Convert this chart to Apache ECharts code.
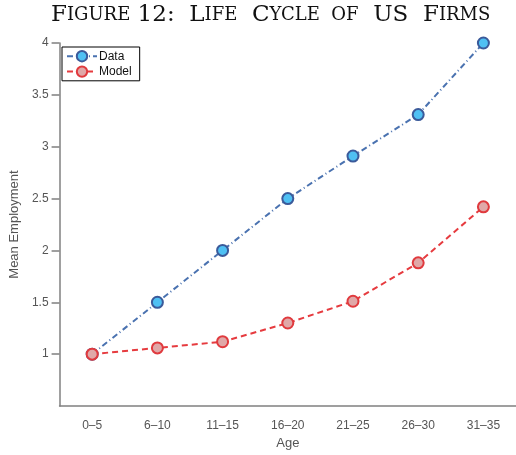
<!DOCTYPE html>
<html>
<head>
<meta charset="utf-8">
<script src="https://cdn.jsdelivr.net/npm/echarts@6/dist/echarts.min.js"></script>
<style>
  html, body { margin: 0; padding: 0; background: #fff; }
  #chart { width: 516px; height: 455px; }
</style>
</head>
<body>
<div id="chart"></div>
<script>
// age groups on the x axis
const ageGroups = ['0–5', '6–10', '11–15', '16–20', '21–25', '26–30', '31–35']
// mean employment
const dataValues = [1.0, 1.5, 2.0, 2.5, 2.91, 3.31, 4.0]
const modelValues = [1.0, 1.06, 1.12, 1.3, 1.51, 1.88, 2.42]
// y tick labels shown
const yTicks = [1, 1.5, 2, 2.5, 3, 3.5, 4]

const chart = echarts.init(document.getElementById('chart'))

const axisColor = '#808080'
const labelColor = '#555'

const option = {
  animation: false,
  title: {
    text: '{b|F}{s|IGURE}{b| 12:  L}{s|IFE}{b|  C}{s|YCLE  OF}{b|  US  F}{s|IRMS}',
    left: 46,
    top: -1,
    textStyle: {
      rich: {
        b: { fontFamily: 'DejaVu Serif', fontWeight: 'normal', fontSize: 23, color: '#111' },
        s: { fontFamily: 'DejaVu Serif', fontWeight: 'normal', fontSize: 18, color: '#111' },
      },
    },
  },
  legend: {
    left: 62,
    top: 47,
    orient: 'vertical',
    backgroundColor: '#fff',
    borderColor: '#000',
    borderWidth: 1,
    borderRadius: 0,
    padding: [3, 8, 3, 4],
    itemGap: 3,
    itemWidth: 30,
    itemHeight: 13,
    textStyle: { fontFamily: 'Liberation Sans', fontSize: 12, color: '#111', padding: [0, 0, 0, -3] },
    data: ['Data', 'Model'],
  },
  grid: {
    left: 57,
    top: 43,
    width: 462,
    height: 363,
    containLabel: false,
  },
  xAxis: {
    type: 'category',
    data: ageGroups,
    boundaryGap: true,
    name: 'Age',
    nameLocation: 'middle',
    nameGap: 31,
    nameTextStyle: { fontFamily: 'Liberation Sans', fontSize: 13, color: labelColor },
    axisLine: { lineStyle: { color: axisColor, width: 1.5 } },
    axisTick: { alignWithLabel: true, length: 9, lineStyle: { color: axisColor, width: 1.5 } },
    axisLabel: { fontFamily: 'Liberation Sans', fontSize: 12, color: labelColor, margin: 14 },
    splitLine: { show: false },
  },
  yAxis: {
    type: 'value',
    min: 0.5,
    max: 4,
    interval: 0.5,
    name: 'Mean Employment',
    nameLocation: 'middle',
    nameGap: 38,
    nameTextStyle: { fontFamily: 'Liberation Sans', fontSize: 13, color: labelColor },
    axisLine: { show: true, lineStyle: { color: axisColor, width: 1.5 } },
    axisTick: { show: true, length: 8, customValues: yTicks, lineStyle: { color: axisColor, width: 1.5 } },
    axisLabel: { fontFamily: 'Liberation Sans', fontSize: 12, color: labelColor, margin: 11, customValues: yTicks },
    splitLine: { show: false },
  },
  series: [
    {
      name: 'Data',
      type: 'line',
      data: dataValues,
      symbol: 'circle',
      symbolSize: 11,
      lineStyle: { color: '#4a72b0', width: 2, type: [6, 3, 1, 3] },
      itemStyle: { color: '#4fc0f3', borderColor: '#3b5a9a', borderWidth: 2 },
      z: 3,
    },
    {
      name: 'Model',
      type: 'line',
      data: modelValues,
      symbol: 'circle',
      symbolSize: 11,
      lineStyle: { color: '#e63b3f', width: 2, type: [6, 4] },
      itemStyle: { color: '#e0a8a8', borderColor: '#e03a3e', borderWidth: 2 },
      z: 4,
    },
  ],
}

chart.setOption(option)
</script>
</body>
</html>
